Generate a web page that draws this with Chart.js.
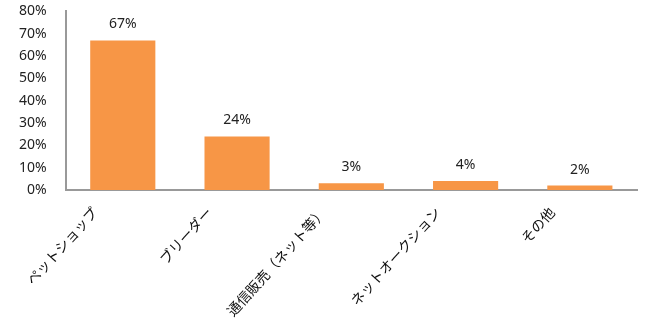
<!DOCTYPE html>
<html><head><meta charset="utf-8">
<script src="https://cdn.jsdelivr.net/npm/chart.js@4/dist/chart.umd.min.js"></script>
<style>html,body{margin:0;padding:0;background:#fff;}canvas{display:block;}</style>
</head><body>
<canvas id="c" width="652" height="324"></canvas>
<script>
const categories = ["ペットショップ", "ブリーダー", "通信販売（ネット等）", "ネットオークション", "その他"];
const values = [67, 24, 3, 4, 2];
const yTicks = [0, 10, 20, 30, 40, 50, 60, 70, 80];

const FONT = "'Noto Sans CJK JP', 'Noto Sans', sans-serif";
const NUMFONT = "'Noto Sans', 'DejaVu Sans', sans-serif";

const valueLabels = {
  id: 'valueLabels',
  afterDatasetsDraw(chart) {
    const ctx = chart.ctx;
    const meta = chart.getDatasetMeta(0);
    ctx.save();
    ctx.font = "14px " + NUMFONT;
    ctx.fillStyle = '#222';
    ctx.textAlign = 'center';
    ctx.textBaseline = 'bottom';
    meta.data.forEach((bar, i) => {
      ctx.fillText(values[i] + '%', bar.x, bar.y - 9);
    });
    ctx.restore();
  }
};

new Chart(document.getElementById('c'), {
  type: 'bar',
  data: {
    labels: categories,
    datasets: [{
      data: values,
      backgroundColor: '#F79646',
      borderWidth: 0,
      categoryPercentage: 1.0,
      barPercentage: 0.57
    }]
  },
  options: {
    responsive: false,
    animation: false,
    devicePixelRatio: 1,
    layout: { autoPadding: false, padding: { left: 16, right: 15, top: 3, bottom: 0 } },
    plugins: { legend: { display: false }, tooltip: { enabled: false } },
    scales: {
      x: {
        afterFit(axis) { axis.height = 134; },
        grid: { display: false, drawTicks: false },
        border: { display: true, color: '#999', width: 2 },
        ticks: {
          maxRotation: 48, minRotation: 48,
          autoSkip: false,
          labelOffset: -28,
          padding: 14,
          color: '#111',
          font: { family: FONT, size: 14 }
        }
      },
      y: {
        min: 0, max: 80,
        afterBuildTicks(axis) { axis.ticks = yTicks.map(v => ({ value: v })); },
        grid: { display: false, drawTicks: true, tickLength: 16 },
        border: { display: true, color: '#999', width: 2 },
        ticks: {
          autoSkip: false,
          padding: 3,
          color: '#222',
          font: { family: NUMFONT, size: 14 },
          callback: v => v + '%'
        }
      }
    }
  },
  plugins: [valueLabels]
});
</script>
</body></html>
